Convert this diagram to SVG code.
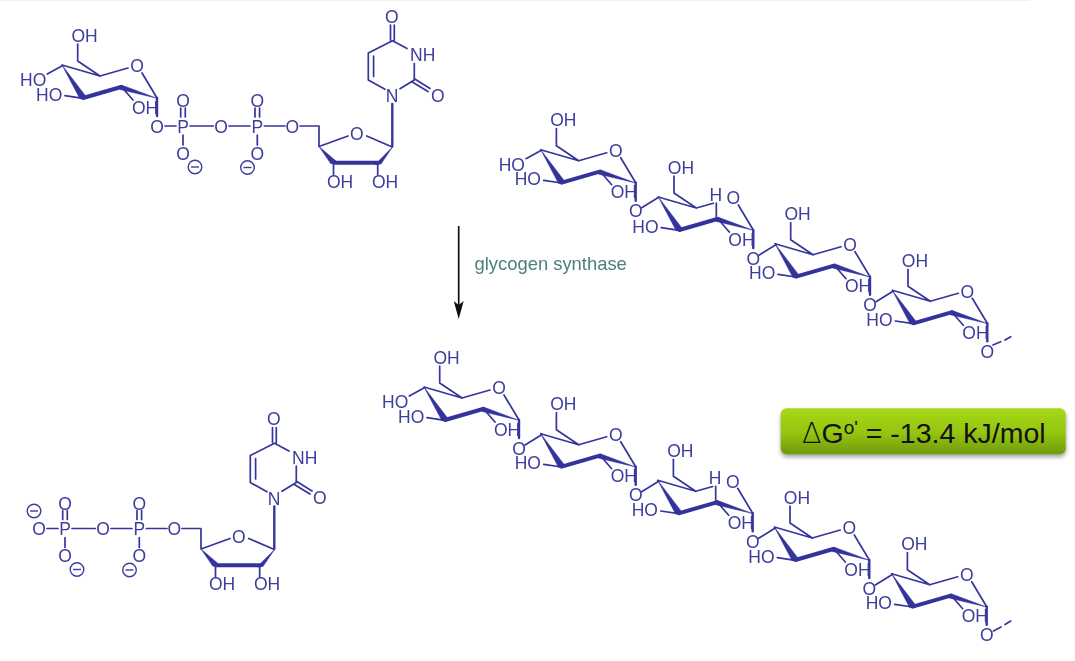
<svg xmlns="http://www.w3.org/2000/svg" width="1075" height="661" viewBox="0 0 1075 661">
<style>
.b{stroke:#35359b;stroke-width:1.7;fill:none;stroke-linecap:round;stroke-linejoin:round}
.h{stroke:#35359b;stroke-width:2.4;fill:none;stroke-linecap:round}
.k{stroke:#33339b;stroke-width:4;fill:none;stroke-linecap:round}
.w{fill:#33339b;stroke:#33339b;stroke-width:.5;stroke-linejoin:round}
.t{font-family:"Liberation Sans",Arial,sans-serif;font-size:17.5px;fill:#3d3d9e;opacity:.995}
.m{text-anchor:middle}
.c{fill:none;stroke:#3d3d9e;stroke-width:1.4}
</style>
<defs>
<marker id="arrowhead" markerUnits="userSpaceOnUse" viewBox="0 0 18 10" markerWidth="18" markerHeight="10" refX="4" refY="5" orient="auto"><path d="M0 0L18 5L0 10L4 5Z" fill="#111"/></marker>
<linearGradient id="green" x1="0" y1="0" x2="0" y2="1"><stop offset="0" stop-color="#a9d81f"/><stop offset=".12" stop-color="#a4d414"/><stop offset=".55" stop-color="#94c40f"/><stop offset="1" stop-color="#6f9a0a"/></linearGradient>
<filter id="shadow" x="-5%" y="-20%" width="110%" height="150%"><feGaussianBlur stdDeviation="2"/></filter>
<g id="minus"><circle class="c" r="6.8"/><path class="c" d="M-4 0H4"/></g>
<g id="ring">
<path class="b" d="M77.7 44V61L100 76M62 65L100 76M142 73L157 98M121.7 87L133 100M65 95.7L83 98.3"/>
<path class="w" d="M62 65L80 99L86 96.5Z"/>
<path class="k" d="M83 98L121 87"/>
<path class="w" d="M121.5 85L120 89.5L157 98.3Z"/>
<path class="h" d="M157 98V116"/>
</g>
<path id="closed" class="b" d="M100 76L128 68"/>
<path id="open" class="b" d="M101 75.7L117 71.2M120 71V87"/>
<path id="ho-bond" class="b" d="M47.3 74L62.7 65.5"/>
<g id="diphosphate">
<path class="b" d="M165 126H176M190 126H213.3M229 126H250M264.3 126H285M180.7 108V117M185.3 108V117M183 135V145M255 108V117M259.6 108V117M257.3 135V145"/>
<use href="#minus" x="195" y="167"/><use href="#minus" x="247.5" y="167.5"/>
</g>
<g id="uridine">
<path class="b" d="M300 126H319V146.5L348 136M366.7 136L392.3 147M333.5 163V174.5M377.7 163V174.5M385 89.3L368.3 80V53L392.5 40.7L407 48.5M414.3 63.5V80L400 88.7M414 78.5L430 88.5M412.3 82L428 91.5M373.6 56V76.5M390.5 25V40M394.3 25V40"/>
<path class="w" d="M319 146.5L331 164L336 161Z"/>
<path class="k" d="M334 162.7H378"/>
<path class="w" d="M375 164.5L381 164L392.5 147Z"/>
<path class="h" d="M392.3 146V104"/>
</g>
</defs>
<rect x="0" y="0" width="1030" height="1" fill="#f1f1f1"/>

<g id="connectors">
<path class="b" d="M163 123L180 112.5" transform="translate(478.7 84.7)"/>
<path class="b" d="M163 123L180 112.5" transform="translate(596.3 132)"/>
<path class="b" d="M163 123L180 112.5" transform="translate(713 178.7)"/>
<path class="b" d="M163 123L180 112.5" transform="translate(362 322)"/>
<path class="b" d="M163 123L180 112.5" transform="translate(478.7 368.7)"/>
<path class="b" d="M163 123L180 112.5" transform="translate(595.7 415.3)"/>
<path class="b" d="M163 123L180 112.5" transform="translate(712.3 462)"/>
<path class="b" d="M993 345L1000.7 341.7M1005 340L1010.7 336.7"/>
<path class="b" d="M993.5 631L1001 627M1005 624.5L1010.7 621"/>
<line x1="458.7" y1="226" x2="458.7" y2="305" stroke="#111" stroke-width="1.7" marker-end="url(#arrowhead)"/>
</g>

<g id="udp-glucose">
<use href="#ring"/><use href="#closed"/><use href="#ho-bond"/><use href="#diphosphate"/><use href="#uridine"/>
<text class="t" x="71.5" y="41.5">OH</text><text class="t" x="20" y="86">HO</text><text class="t" x="36" y="100.5">HO</text><text class="t" x="132" y="113.5">OH</text><text class="t m" x="137" y="72.4">O</text><text class="t m" x="157" y="132.5">O</text>
<text class="t m" x="183" y="132.5">P</text><text class="t m" x="183" y="107">O</text><text class="t m" x="183" y="159.5">O</text><text class="t m" x="221" y="132.5">O</text>
<text class="t m" x="257.3" y="132.5">P</text><text class="t m" x="257.3" y="107">O</text><text class="t m" x="257.3" y="159.5">O</text><text class="t m" x="292.3" y="132.5">O</text>
<text class="t m" x="356.7" y="140">O</text><text class="t m" x="340" y="187.7">OH</text><text class="t m" x="385" y="187.7">OH</text>
<text class="t m" x="392" y="102">N</text><text class="t" x="410" y="61">NH</text><text class="t m" x="391.7" y="22.7">O</text><text class="t m" x="437.7" y="101.7">O</text>
</g>

<g id="udp" transform="translate(-118 402.5)">
<use href="#diphosphate"/><use href="#uridine"/>
<use href="#minus" x="152" y="108.5"/>
<text class="t m" x="157" y="132.5">O</text>
<text class="t m" x="183" y="132.5">P</text><text class="t m" x="183" y="107">O</text><text class="t m" x="183" y="159.5">O</text><text class="t m" x="221" y="132.5">O</text>
<text class="t m" x="257.3" y="132.5">P</text><text class="t m" x="257.3" y="107">O</text><text class="t m" x="257.3" y="159.5">O</text><text class="t m" x="292.3" y="132.5">O</text>
<text class="t m" x="356.7" y="140">O</text><text class="t m" x="340" y="187.7">OH</text><text class="t m" x="385" y="187.7">OH</text>
<text class="t m" x="392" y="102">N</text><text class="t" x="410" y="61">NH</text><text class="t m" x="391.7" y="22.7">O</text><text class="t m" x="437.7" y="101.7">O</text>
</g>

<g id="top-sugar-1" transform="translate(478.7 84.7)"><use href="#ring"/><use href="#closed"/><use href="#ho-bond"/><text class="t" x="71.5" y="41.5">OH</text><text class="t" x="20" y="86">HO</text><text class="t" x="36" y="100.5">HO</text><text class="t" x="132" y="113.5">OH</text><text class="t m" x="137" y="72.4">O</text><text class="t m" x="157" y="132.5">O</text></g>
<g id="top-sugar-2" transform="translate(596.3 132)"><use href="#ring"/><use href="#open"/><text class="t" x="71.5" y="41.5">OH</text><text class="t" x="36" y="100.5">HO</text><text class="t" x="132" y="113.5">OH</text><text class="t m" x="119.5" y="69">H</text><text class="t m" x="137" y="72.4">O</text><text class="t m" x="157" y="132.5">O</text></g>
<g id="top-sugar-3" transform="translate(713 178.7)"><use href="#ring"/><use href="#closed"/><text class="t" x="71.5" y="41.5">OH</text><text class="t" x="36" y="100.5">HO</text><text class="t" x="132" y="113.5">OH</text><text class="t m" x="137" y="72.4">O</text><text class="t m" x="157" y="132.5">O</text></g>
<g id="top-sugar-4" transform="translate(830.3 225.3)"><use href="#ring"/><use href="#closed"/><text class="t" x="71.5" y="41.5">OH</text><text class="t" x="36" y="100.5">HO</text><text class="t" x="132" y="113.5">OH</text><text class="t m" x="137" y="72.4">O</text><text class="t m" x="157" y="132.5">O</text></g>

<g id="bottom-sugar-1" transform="translate(362 322)"><use href="#ring"/><use href="#closed"/><use href="#ho-bond"/><text class="t" x="71.5" y="41.5">OH</text><text class="t" x="20" y="86">HO</text><text class="t" x="36" y="100.5">HO</text><text class="t" x="132" y="113.5">OH</text><text class="t m" x="137" y="72.4">O</text><text class="t m" x="157" y="132.5">O</text></g>
<g id="bottom-sugar-2" transform="translate(478.7 368.7)"><use href="#ring"/><use href="#closed"/><text class="t" x="71.5" y="41.5">OH</text><text class="t" x="36" y="100.5">HO</text><text class="t" x="132" y="113.5">OH</text><text class="t m" x="137" y="72.4">O</text><text class="t m" x="157" y="132.5">O</text></g>
<g id="bottom-sugar-3" transform="translate(595.7 415.3)"><use href="#ring"/><use href="#open"/><text class="t" x="71.5" y="41.5">OH</text><text class="t" x="36" y="100.5">HO</text><text class="t" x="132" y="113.5">OH</text><text class="t m" x="119.5" y="69">H</text><text class="t m" x="137" y="72.4">O</text><text class="t m" x="157" y="132.5">O</text></g>
<g id="bottom-sugar-4" transform="translate(712.3 462)"><use href="#ring"/><use href="#closed"/><text class="t" x="71.5" y="41.5">OH</text><text class="t" x="36" y="100.5">HO</text><text class="t" x="132" y="113.5">OH</text><text class="t m" x="137" y="72.4">O</text><text class="t m" x="157" y="132.5">O</text></g>
<g id="bottom-sugar-5" transform="translate(829.7 508.7)"><use href="#ring"/><use href="#closed"/><text class="t" x="71.5" y="41.5">OH</text><text class="t" x="36" y="100.5">HO</text><text class="t" x="132" y="113.5">OH</text><text class="t m" x="137" y="72.4">O</text><text class="t m" x="157" y="132.5">O</text></g>

<text id="enzyme-label" x="474.5" y="270" font-family="'Liberation Sans',Arial,sans-serif" font-size="18.4" fill="#4a8080" opacity=".995">glycogen synthase</text>

<g id="energy-box">
<rect x="781" y="411" width="285" height="46" rx="6" fill="#555" opacity=".55" filter="url(#shadow)"/>
<rect x="780.7" y="408.3" width="285" height="46" rx="6" fill="url(#green)"/>
<text x="802" y="443.3" font-family="'Liberation Sans',Arial,sans-serif" font-size="28.5" fill="#111"><tspan font-family="'DejaVu Sans',sans-serif" font-weight="200">Δ</tspan>G<tspan font-size="19" dy="-9">o'</tspan><tspan dy="9"> = -13.4 kJ/mol</tspan></text>
</g>
</svg>
